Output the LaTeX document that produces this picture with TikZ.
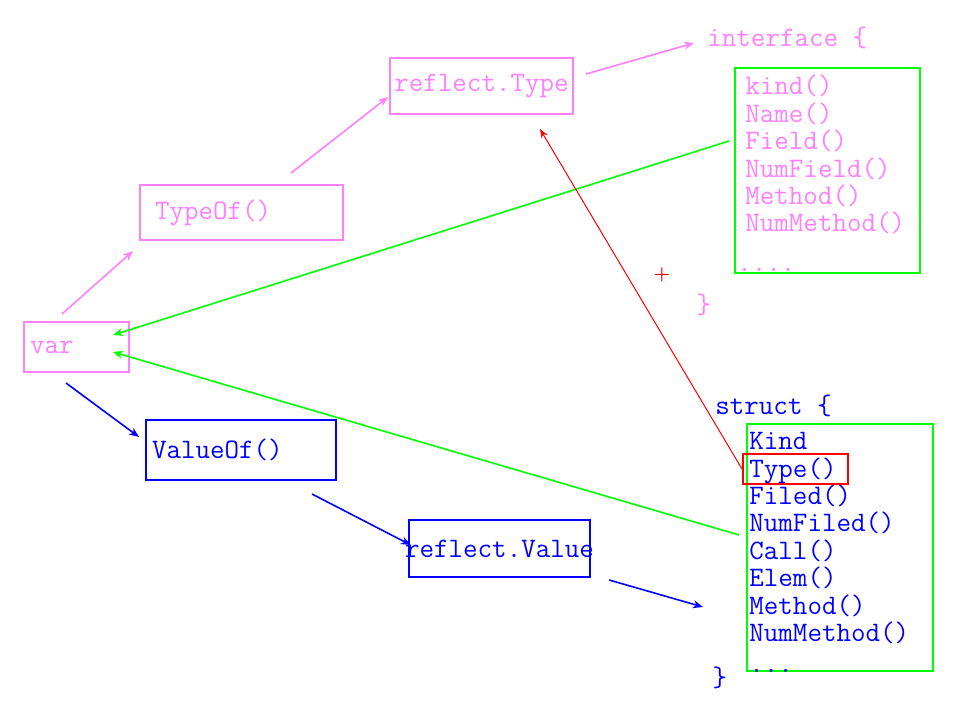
\documentclass[tikz,border=0pt]{standalone}
\usepackage{fontspec}
\usetikzlibrary{arrows.meta}
\definecolor{pinkish}{HTML}{FF80FF}
\definecolor{grn}{HTML}{00FF00}
\definecolor{blu}{HTML}{0000FF}
\definecolor{rd}{HTML}{FF0000}

\begin{document}
\begin{tikzpicture}[x=0.5pt,y=-0.5pt,
  code/.style={font=\ttfamily\fontsize{14.1}{13.7}\selectfont, inner sep=0pt},
  pinkbox/.style={code, draw=pinkish, text=pinkish, line width=1pt},
  bluebox/.style={code, draw=blu, text=blu, line width=1pt},
  greenbox/.style={draw=grn, line width=1pt, inner sep=0pt},
  pinkarr/.style={draw=pinkish, line width=0.8pt, -{Stealth[length=5pt,width=4pt]}},
  greenarr/.style={draw=grn, line width=0.8pt, -{Stealth[length=5pt,width=4pt]}},
  bluearr/.style={draw=blu, line width=0.8pt, -{Stealth[length=5pt,width=4pt]}},
  redarr/.style={draw=rd, line width=0.5pt, -{Stealth[length=4.5pt,width=3.5pt]}}]
\fill[white] (0,0) rectangle (980,708);
\useasboundingbox (0,0) rectangle (980,708);

% left column
\node[pinkbox, minimum height=25pt, text width=46.5pt, align=left, inner xsep=3pt] (var) at (76.5,347) {var};
\node[pinkbox, minimum height=27.5pt, text width=86.5pt, align=left, inner xsep=7.5pt] (typeof) at (241.5,212.5) {TypeOf()};
\node[pinkbox, minimum width=91.5pt, minimum height=28pt] (rtype) at (481.5,86) {reflect.Type};
\node[bluebox, minimum height=30pt, text width=89pt, align=left, inner xsep=3pt] (valueof) at (241,450) {\raisebox{-2pt}{ValueOf()}};
\node[bluebox, minimum height=28.5pt, inner xsep=-1.85pt] (rvalue) at (499.5,548.5) {reflect.Value};

% interface
\node[code, text=pinkish, anchor=west] (iftitle) at (707,38) {interface \{};
\node[greenbox, minimum width=92.5pt, minimum height=102.5pt] (ifbox) at (827.5,170.5) {};
\node[code, text=pinkish, align=left, anchor=north west] (iflist) at ([shift={(11,8)}]ifbox.north west)
  {kind()\\Name()\\Field()\\NumField()\\Method()\\NumMethod()\\[6pt]\hspace*{-4pt}....};
\node[code, text=pinkish] (ifend) at (704,305) {\}};
\node[text=rd, font=\bfseries\fontsize{9}{9}\selectfont, inner sep=0pt] (plus) at (662,275) {+};

% struct
\node[code, text=blu, anchor=west] (sttitle) at (715,406) {struct \{};
\node[greenbox, minimum width=93pt, minimum height=123.5pt] (stbox) at (840,547.5) {};
\node[code, text=blu, align=left, anchor=north west] (stlist) at ([shift={(3,9)}]stbox.north west)
  {Kind\\Type()\\Filed()\\NumFiled()\\Call()\\Elem()\\Method()\\NumMethod()\\[2pt]...};
\node[code, text=blu] (stend) at (720,678) {\}};
\node[draw=rd, line width=1pt, minimum width=52.5pt, minimum height=15pt, inner sep=0pt] (typehl) at (795.5,469) {};

% arrows
\draw[pinkarr] ([shift={(-14.5,-7)}]var.north) -- ([shift={(-6,10)}]typeof.south west);
\draw[pinkarr] ([shift={(49.5,-11)}]typeof.north) -- ([shift={(-1,11)}]rtype.west);
\draw[pinkarr] ([shift={(12,-12)}]rtype.east) -- ([shift={(-13,5)}]iftitle.west);
\draw[greenarr] ([shift={(-5,-29.5)}]ifbox.west) -- ([shift={(-17,-12)}]var.east);
\draw[greenarr] ([shift={(-7,-12.5)}]stbox.west) -- ([shift={(-17,5)}]var.east);
\draw[redarr] (typehl.west) -- ([shift={(58.5,14)}]rtype.south);
\draw[bluearr] ([shift={(-10.5,10)}]var.south) -- ([shift={(-6,-13)}]valueof.west);
\draw[bluearr] ([shift={(71,13)}]valueof.south) -- ([shift={(3,-3.5)}]rvalue.west);
\draw[bluearr] ([shift={(18,31.5)}]rvalue.east) -- ([shift={(-43,59.5)}]stbox.west);
\end{tikzpicture}
\end{document}
